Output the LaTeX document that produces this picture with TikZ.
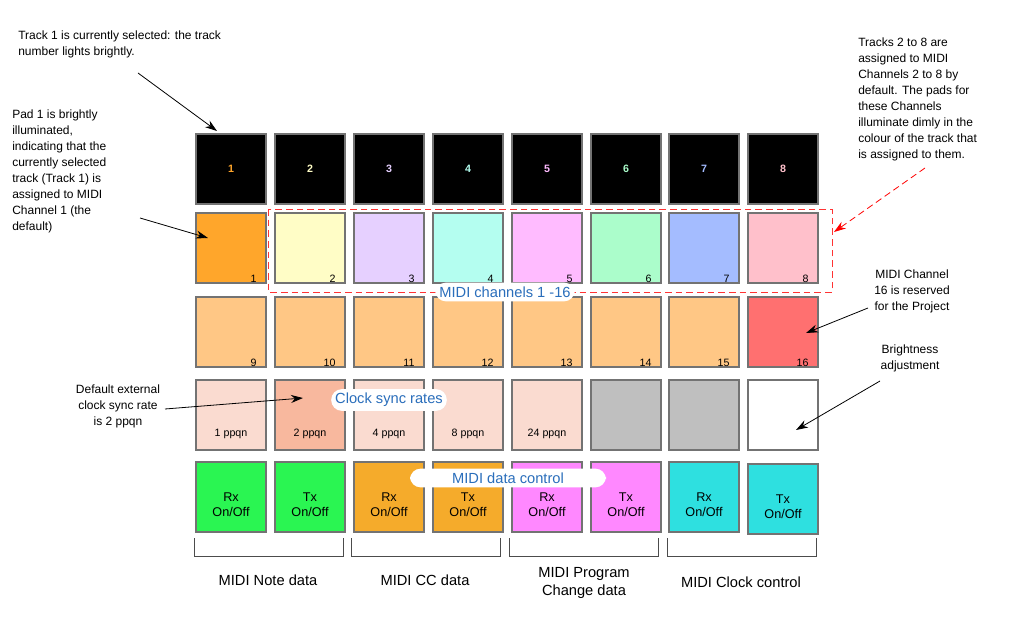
\documentclass[tikz,border=0pt]{standalone}
\usepackage{fontspec}
\setmainfont{Liberation Sans}
\usetikzlibrary{arrows.meta}
\definecolor{labblue}{HTML}{2A6EBB}
\tikzset{
  pad/.style={draw=black!55,line width=0.8pt,minimum width=52.5pt,minimum height=52.5pt,inner sep=0pt},
  topnum/.style={font=\fontsize{8}{9}\selectfont\bfseries},
  ann/.style={font=\fontsize{9}{12}\selectfont,align=left,inner sep=0pt},
  annc/.style={font=\fontsize{9}{12}\selectfont,align=center,inner sep=0pt},
  arr/.style={-{Stealth[length=9pt,width=6pt]},line width=0.6pt},
  pill/.style={fill=white,rounded corners=8pt,text=labblue,font=\fontsize{11}{12}\selectfont,inner sep=3pt},
  grp/.style={font=\fontsize{11}{14}\selectfont,align=center},
  pn/.style={font=\fontsize{8}{9}\selectfont}
}
\begin{document}
\begin{tikzpicture}[x=0.75pt,y=-0.75pt]
\useasboundingbox (0,0) rectangle (1028,634);
\def\xs{{231,310,389,468,547,626,704,783}}
% top row
\foreach \i/\c in {1/FFA62B,2/FFFDC6,3/E6D0FF,4/B4FEF0,5/FFBBFF,6/ABFDCB,7/A4BCFF,8/FFC0CB}{
  \pgfmathsetmacro{\xx}{\xs[\i-1]}
  \definecolor{tc}{HTML}{\c}
  \node[pad,fill=black] (t\i) at (\xx,169) {};
  \node[topnum,text=tc] at (t\i) {\i};
  \node[pad,fill=tc] (a\i) at (\xx,248) {};
  \node[pn,anchor=south east] at ([shift={(-4pt,-3pt)}]a\i.south east) {\i};
}
\foreach \i in {1,...,8}{
  \pgfmathsetmacro{\xx}{\xs[\i-1]}
  \pgfmathtruncatemacro{\n}{\i+8}
  \ifnum\i=8 \definecolor{rc}{HTML}{FF7070}\else\definecolor{rc}{HTML}{FFC785}\fi
  \node[pad,fill=rc] (b\i) at (\xx,332) {};
  \node[pn,anchor=south east] at ([shift={(-4pt,-3pt)}]b\i.south east) {\n};
}
\foreach \i/\c/\t in {1/FADBD0/1 ppqn,2/F8B89E/2 ppqn,3/FADBD0/4 ppqn,4/FADBD0/8 ppqn,5/FADBD0/24 ppqn,6/BFBFBF/,7/BFBFBF/,8/FFFFFF/}{
  \pgfmathsetmacro{\xx}{\xs[\i-1]}
  \definecolor{rc}{HTML}{\c}
  \node[pad,fill=rc] (c\i) at (\xx,415) {};
  \node[pn,anchor=south] at ([yshift=5pt]c\i.south) {\t};
}
\foreach \i/\c/\t in {1/2AF552/Rx,2/2AF552/Tx,3/F5AB2B/Rx,4/F5AB2B/Tx,5/FF88FF/Rx,6/FF88FF/Tx,7/2EE0E0/Rx,8/2EE0E0/Tx}{
  \pgfmathsetmacro{\xx}{\xs[\i-1]}
  \ifnum\i=8 \def\yy{499}\else\def\yy{497}\fi
  \definecolor{rc}{HTML}{\c}
  \node[pad,fill=rc] (d\i) at (\xx,\yy) {};
  \node[font=\fontsize{9.5}{11}\selectfont,align=center] at ([yshift=-6pt]d\i) {\t\\On/Off};
}
% dashed box
\draw[red!80,dashed,line width=0.7pt,dash pattern=on 5pt off 3pt] (268,209) rectangle (832,292);
\node[pill] (lch) at (505,292) {MIDI channels 1 -16};
\node[pill] (lcs) at (389,400) {Clock sync rates};
\node[pill,minimum width=147pt] (lmd) at (508,478) {MIDI data control};
% brackets
\foreach \a/\b/\k in {194/343/1,351/500/2,509/658/3,667/816/4}{
  \draw[black!70,line width=0.6pt] (\a,538) -- (\a,556) -- (\b,556) -- (\b,538);
}
\node[grp] (g1) at (268,580) {MIDI Note data};
\node[grp] (g2) at (425,580) {MIDI CC data};
\node[grp] (g3) at (584,583) {MIDI Program\\Change data};
\node[grp] (g4) at (741,582) {MIDI Clock control};
% annotations
\node[ann,anchor=north west] (n1) at (18,31) {Track 1 is currently selected: the track\\number lights brightly.};
\coordinate (n1e) at (138,73);
\draw[arr] (n1e) -- (217,131);
\node[ann,anchor=north west] (n2) at (12,110) {Pad 1 is brightly\\illuminated,\\indicating that the\\currently selected\\track (Track 1) is\\assigned to MIDI\\Channel 1 (the\\default)};
\coordinate (n2e) at (140,218);
\draw[arr] (n2e) -- (208,238);
\node[ann,anchor=north west] (n3) at (858,38) {Tracks 2 to 8 are\\assigned to MIDI\\Channels 2 to 8 by\\default. The pads for\\these Channels\\illuminate dimly in the\\colour of the track that\\is assigned to them.};
\coordinate (n3e) at (925,168);
\draw[arr,red,dashed,dash pattern=on 5pt off 3pt] (n3e) -- (834,232);
\node[annc,anchor=north] (n4) at (912,270) {MIDI Channel\\16 is reserved\\for the Project};
\coordinate (n4e) at (868,308);
\draw[arr] (n4e) -- (806,333);
\node[annc,anchor=north] (n5) at (118,385) {Default external\\clock sync rate\\is 2 ppqn};
\coordinate (n5e) at (165,409);
\draw[arr] (n5e) -- (303,398);
\node[annc,anchor=north] (n6) at (910,345) {Brightness\\adjustment};
\coordinate (n6e) at (880,381);
\draw[arr] (n6e) -- (796,430);
\end{tikzpicture}
\end{document}
